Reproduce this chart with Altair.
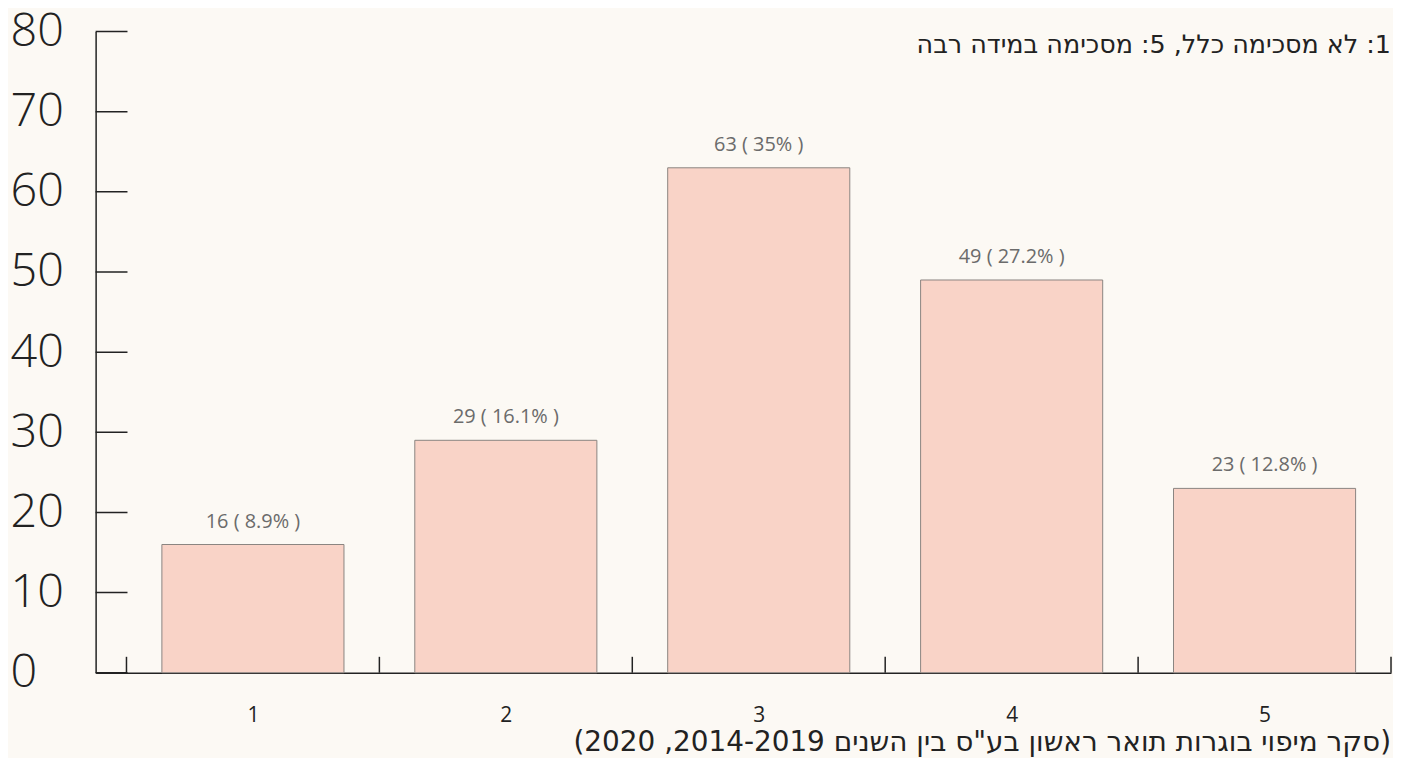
import altair as alt
import pandas as pd

# ---- data ----
categories = [1, 2, 3, 4, 5]
counts = [16, 29, 63, 49, 23]
percents = ["8.9%", "16.1%", "35%", "27.2%", "12.8%"]
y_ticks = [0, 10, 20, 30, 40, 50, 60, 70, 80]
x_bounds = [0.5, 1.5, 2.5, 3.5, 4.5, 5.5]
scale_note = "1: לא מסכימה כלל, 5: מסכימה במידה רבה"
source_note = "(סקר מיפוי בוגרות תואר ראשון בע\"ס בין השנים 2014-2019, 2020)"

RLE, PDF = "\u202b", "\u202c"

# ---- layout / style ----
W, H = 1301, 644
BAR_HALF = 0.36
FONT = "Open Sans"
NOTE_FONT = "DejaVu Sans"
INK = "#222222"
BG = "#fcf9f4"

df = pd.DataFrame({"cat": categories, "count": counts, "pct": percents})
df["label"] = [f"{c} ( {p} )" for c, p in zip(counts, percents)]

xs = alt.Scale(domain=[0.378, 5.5], nice=False, zero=False)
ys = alt.Scale(domain=[0, 80], nice=False, zero=True)

xaxis = alt.Axis(
    values=categories, format="d", title=None, grid=False,
    ticks=False, tickSize=0, labelPadding=32, labelFontSize=21,
    labelColor=INK, labelFont=FONT, domainColor=INK, domainWidth=1.5,
    labelFlush=False,
)
yaxis = alt.Axis(
    values=y_ticks, title=None, grid=False, ticks=False, tickSize=0,
    labelAlign="left", labelBaseline="middle", labelPadding=86,
    labelFontSize=47, labelFontWeight=300, labelColor=INK, labelFont=FONT,
    domainColor=INK, domainWidth=1.5,
)

bars = (
    alt.Chart(df)
    .transform_calculate(x0=f"datum.cat - {BAR_HALF}", x1=f"datum.cat + {BAR_HALF}")
    .mark_rect(fill="#f9d3c7", stroke="#8a8480", strokeWidth=1)
    .encode(
        x=alt.X("x0:Q", scale=xs, axis=xaxis),
        x2="x1:Q",
        y=alt.Y("count:Q", scale=ys, axis=yaxis),
        y2=alt.datum(0),
    )
)

labels = (
    alt.Chart(df)
    .mark_text(dy=-17, fontSize=20, color="#6b6b6b", font=FONT, baseline="alphabetic")
    .encode(
        x=alt.X("cat:Q", scale=xs, axis=xaxis),
        y=alt.Y("count:Q", scale=ys, axis=yaxis),
        text="label:N",
    )
)

yticks = (
    alt.Chart(pd.DataFrame({"v": y_ticks}))
    .mark_rule(color=INK, strokeWidth=1.5)
    .encode(y=alt.Y("v:Q", scale=ys, axis=yaxis), x=alt.value(0), x2=alt.value(32))
)

xticks = (
    alt.Chart(pd.DataFrame({"b": x_bounds}))
    .mark_rule(color=INK, strokeWidth=1.5)
    .encode(x=alt.X("b:Q", scale=xs, axis=xaxis), y=alt.value(H - 16), y2=alt.value(H))
)

note_top = (
    alt.Chart(pd.DataFrame({"t": [RLE + scale_note + PDF]}))
    .mark_text(align="right", baseline="alphabetic", fontSize=25.5, color=INK, font=NOTE_FONT)
    .encode(x=alt.value(W), y=alt.value(22), text="t:N")
)

note_src = (
    alt.Chart(pd.DataFrame({"t": [RLE + source_note + PDF]}))
    .mark_text(align="right", baseline="alphabetic", fontSize=28, color=INK, font=NOTE_FONT)
    .encode(x=alt.value(W), y=alt.value(H + 79), text="t:N")
)

chart = (
    alt.layer(bars, labels, yticks, xticks, note_top, note_src)
    .properties(
        width=W,
        height=H,
        background=BG,
        autosize=alt.AutoSizeParams(type="none"),
        padding={"left": 88, "top": 22, "right": 2, "bottom": 84},
    )
    .configure_view(stroke=None)
)

chart.save("out.html", embed_options={"renderer": "svg", "actions": False})
